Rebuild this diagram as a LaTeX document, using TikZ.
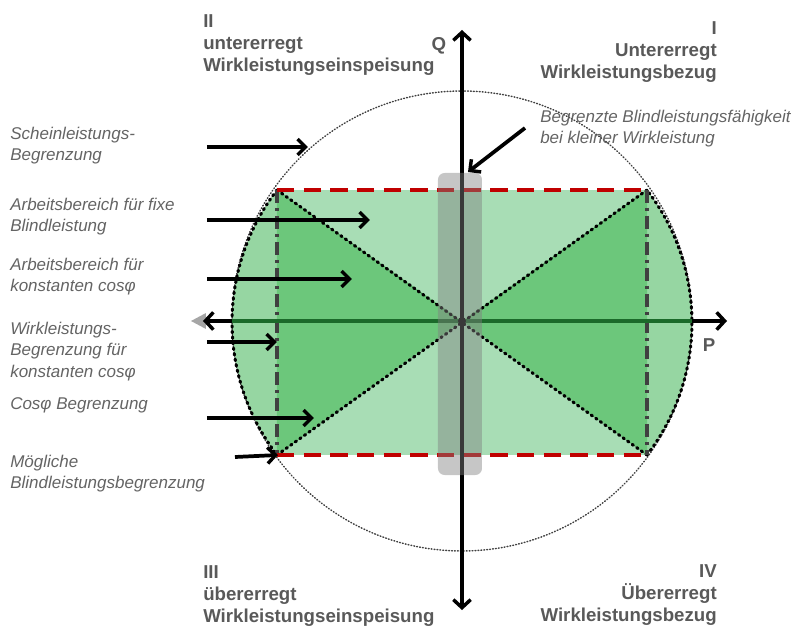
\documentclass[tikz,border=0pt]{standalone}
\usepackage{fontspec}
\setmainfont{Liberation Sans}
\usetikzlibrary{arrows.meta}
\definecolor{lightband}{HTML}{A8DDB5}
\definecolor{segfill}{HTML}{96D6A2}
\definecolor{trifill}{HTML}{6CC77B}
\definecolor{axisgreen}{HTML}{1B6A2A}
\definecolor{limitred}{HTML}{C00000}
\definecolor{labelgray}{HTML}{595959}
\definecolor{notegray}{HTML}{646464}
\definecolor{dashgray}{HTML}{404040}

\begin{document}
\begin{tikzpicture}[x=0.75pt,y=0.75pt,
  barb/.style={-{Straight Barb[length=6pt,width=12pt,line width=2.6pt]}, line width=2.8pt},
  axisline/.style={{Straight Barb[length=6pt,width=13pt,line width=2.6pt]}-{Straight Barb[length=6pt,width=13pt,line width=2.6pt]}, line width=2.8pt},
  quadrant/.style={font=\bfseries\fontsize{14pt}{16.8pt}\selectfont, text=labelgray, inner sep=0pt},
  note/.style={font=\itshape\fontsize{12.75pt}{16pt}\selectfont, text=notegray, inner sep=0pt, align=left, anchor=north west},
  heavydots/.style={line width=2.3pt, dash pattern=on 1.2pt off 3pt, line cap=round},
  dashdot/.style={dashgray, line width=3pt, dash pattern=on 10pt off 3.5pt on 2.5pt off 3.5pt},
  redlimit/.style={limitred, line width=3pt, dash pattern=on 13pt off 7pt},
]
\useasboundingbox (-462,-307) rectangle (334,321);

% corners of the operating rectangle
\coordinate (TL) at (-185,131);
\coordinate (BL) at (-185,-134);
\coordinate (TR) at (185,131);
\coordinate (BR) at (185,-134);
\coordinate (O) at (0,0);

% working areas
\fill[lightband] (TL) rectangle (BR);
\fill[segfill] (TL) arc[start angle=142.5, end angle=217.5, radius=217.6] -- cycle;
\fill[segfill] (BR) arc[start angle=-37.5, end angle=37.5, radius=217.6] -- cycle;
\fill[trifill] (O) -- (TL) -- (BL) -- cycle;
\fill[trifill] (O) -- (TR) -- (BR) -- cycle;

% apparent power limit
\draw[line width=1.1pt, dash pattern=on 0.6pt off 1.6pt, line cap=round, black!75] (O) circle[radius=230];

% cos phi limits and segment borders
\draw[heavydots] (TL) -- (BR);
\draw[heavydots] (BL) -- (TR);
\draw[heavydots] (TL) arc[start angle=142.5, end angle=217.5, radius=217.6];
\draw[heavydots] (BR) arc[start angle=-37.5, end angle=37.5, radius=217.6];

% active power limits
\draw[dashdot] (TL) -- (BL);
\draw[dashdot] (TR) -- (BR);

% reactive power limits
\draw[redlimit] (TL) -- (TR);
\draw[redlimit] (BL) -- (BR);

% P axis
\coordinate (Pw) at (-259,0);
\coordinate (Pe) at (265,0);
\fill[black!35] (-271,0) -- (-256,8) -- (-256,-8) -- cycle;
\draw[axisline] (Pw) -- (Pe);
\draw[axisgreen, line width=3pt] (-230,0) -- (230,0);

% Q axis
\coordinate (Qn) at (0,291);
\coordinate (Qs) at (0,-289);
\draw[axisline] (Qs) -- (Qn);
\fill (O) circle[radius=4];

% limited reactive capability at small active power
\fill[black!50, opacity=0.45, rounded corners=5pt] (-24,148) rectangle (20,-154);

\node[font=\bfseries\fontsize{14pt}{17pt}\selectfont, text=labelgray, inner sep=0pt] (Qlab) at (-23,275) {Q};
\node[font=\bfseries\fontsize{14pt}{17pt}\selectfont, text=labelgray, inner sep=0pt] (Plab) at (247,-24) {P};

% quadrants
\node[quadrant, anchor=north west, align=left] (q2) at (-259,307) {II\\untererregt\\Wirkleistungseinspeisung};
\node[quadrant, anchor=north east, align=right] (q1) at (255,300) {I\\Untererregt\\Wirkleistungsbezug};
\node[quadrant, anchor=north west, align=left] (q3) at (-259,-244) {III\\übererregt\\Wirkleistungseinspeisung};
\node[quadrant, anchor=north east, align=right] (q4) at (255,-243) {IV\\Übererregt\\Wirkleistungsbezug};

% annotations
\node[note] (nS) at (-452,194) {Scheinleistungs-\\Begrenzung};
\node[note] (nF) at (-452,123) {Arbeitsbereich für fixe\\Blindleistung};
\node[note] (nK) at (-452,63) {Arbeitsbereich für\\konstanten cosφ};
\node[note] (nW) at (-452,-1) {Wirkleistungs-\\Begrenzung für\\konstanten cosφ};
\node[note] (nC) at (-452,-76) {Cosφ Begrenzung};
\node[note] (nM) at (-452,-134) {Mögliche\\Blindleistungsbegrenzung};
\node[note] (nB) at (78,211) {Begrenzte Blindleistungsfähigkeit\\bei kleiner Wirkleistung};

% pointer arrows
\coordinate (aS1) at (-255,174); \coordinate (aS2) at (-154,174);
\coordinate (aF1) at (-255,101); \coordinate (aF2) at (-92,101);
\coordinate (aK1) at (-255,42);  \coordinate (aK2) at (-110,42);
\coordinate (aW1) at (-255,-21); \coordinate (aW2) at (-185,-21);
\coordinate (aC1) at (-255,-97); \coordinate (aC2) at (-148,-97);
\coordinate (aM1) at (-227,-136); \coordinate (aM2) at (-184,-134);
\coordinate (aB1) at (63,193);   \coordinate (aB2) at (6,149);
\draw[barb] (aS1) -- (aS2);
\draw[barb] (aF1) -- (aF2);
\draw[barb] (aK1) -- (aK2);
\draw[barb] (aW1) -- (aW2);
\draw[barb] (aC1) -- (aC2);
\draw[barb] (aM1) -- (aM2);
\draw[barb] (aB1) -- (aB2);
\end{tikzpicture}
\end{document}
